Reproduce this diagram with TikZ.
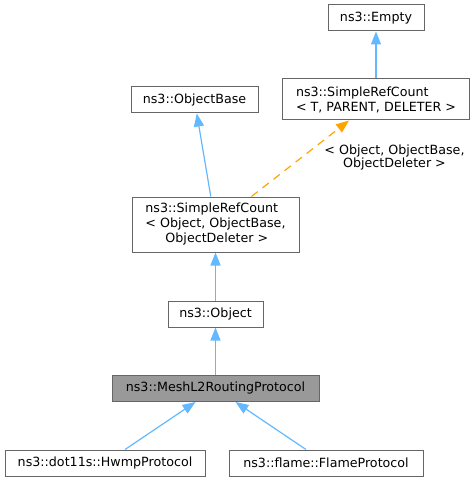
\documentclass[tikz,border=0pt]{standalone}
\usepackage{fontspec}
\setmainfont{DejaVu Sans}
\usetikzlibrary{arrows.meta}
\definecolor{edgeblue}{HTML}{63B8FF}
\definecolor{boxline}{HTML}{666666}
\definecolor{curfill}{HTML}{999999}
\definecolor{tmplorange}{HTML}{FFA500}

\begin{document}
\begin{tikzpicture}[x=0.75pt,y=-0.75pt]
        \tikzstyle{every node}+=[inner sep=0pt,font=\fontsize{9.5}{11.25}\selectfont]
        \tikzstyle{cls}=[draw=boxline,fill=white,line width=0.75pt,align=left,minimum height=19.5pt]
        \tikzstyle{inh}=[draw=edgeblue,line width=0.9pt,-{Triangle[length=9.75pt,width=7.5pt,fill=edgeblue]}]
        \tikzstyle{tmpl}=[draw=tmplorange,line width=0.9pt,dash pattern=on 6pt off 4.5pt,-{Triangle[length=9.75pt,width=7.5pt,fill=tmplorange]}]
        \useasboundingbox (0,0) rectangle (475,481);
        \node [cls,minimum width=72pt] (empty) at (376,18) {ns3::Empty};
        \node [cls,minimum width=140.25pt,minimum height=30.75pt] (srct) at (376,99.5) {ns3::SimpleRefCount\\< T, PARENT, DELETER >};
        \node [cls,minimum width=95.25pt] (objbase) at (194.5,100) {ns3::ObjectBase};
        \node [cls,minimum width=125.25pt,minimum height=41.25pt] (srcobj) at (215.5,224.5) {ns3::SimpleRefCount\\< Object, ObjectBase,\\\hspace*{15pt}ObjectDeleter >};
        \node [cls,minimum width=71.25pt] (object) at (215.5,314) {ns3::Object};
        \node [cls,fill=curfill,minimum width=155.25pt] (mesh) at (215.5,388.5) {ns3::MeshL2RoutingProtocol};
        \node [cls,minimum width=150pt] (hwmp) at (105,463) {ns3::dot11s::HwmpProtocol};
        \node [cls,minimum width=145.5pt] (flame) at (326,463) {ns3::flame::FlameProtocol};
        \draw [inh] (srct) -- (empty);
        \draw [inh] (srcobj) -- (objbase);
        \draw [tmpl] (srcobj) -- (srct);
        \node [align=center,font=\fontsize{9.5}{10}\selectfont] (tmpllabel) at (394.5,157.5) {< Object, ObjectBase,\\ObjectDeleter >};
        \draw [inh] (object) -- (srcobj);
        \draw [inh] (mesh) -- (object);
        \draw [inh] (hwmp) -- (mesh);
        \draw [inh] (flame) -- (mesh);
\end{tikzpicture}
\end{document}
